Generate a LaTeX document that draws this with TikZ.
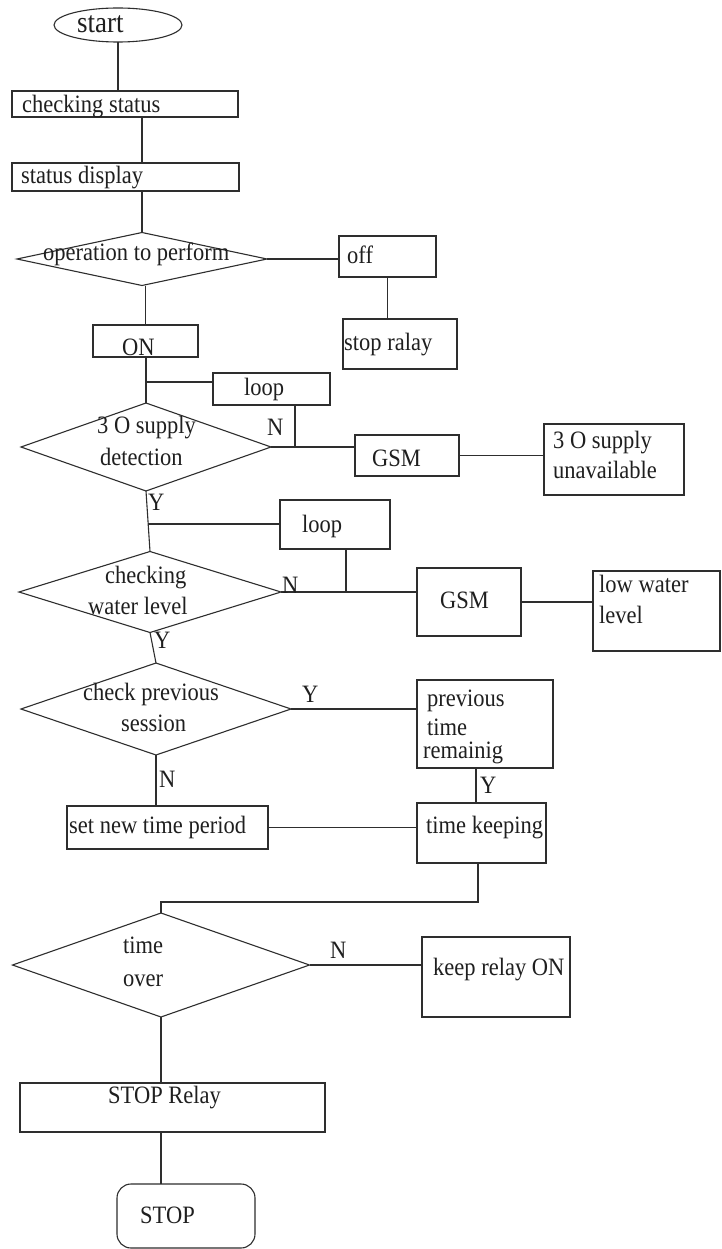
\documentclass[tikz,border=0pt]{standalone}
\usepackage{fontspec}
\setmainfont{Liberation Serif}[FakeStretch=0.9]
\usetikzlibrary{shapes.geometric}
\definecolor{ln}{gray}{0.18}
\begin{document}
\begin{tikzpicture}[x=1pt,y=-1pt,
  shp/.style={draw=ln, line width=1.1pt, inner sep=0pt, outer sep=0pt},
  box/.style={shp, rectangle},
  dia/.style={shp, diamond},
  wire/.style={draw=ln, line width=1.1pt},
  txt/.style={anchor=base west, inner sep=0pt, text=black!88, font=\fontsize{25}{27}\selectfont}]
\useasboundingbox[fill=white] (0,0) rectangle (722,1249);

% shapes
\node[shp, ellipse, minimum width=128pt, minimum height=34pt] (start) at (118,25) {};
\node[box, minimum width=226pt, minimum height=26pt] (cs) at (125,104) {};
\node[box, minimum width=227pt, minimum height=28pt] (sd) at (125.5,177) {};
\node[dia, minimum width=250pt, minimum height=53pt] (op) at (142,259) {};
\node[box, minimum width=97pt, minimum height=41pt] (off) at (387.5,256.5) {};
\node[box, minimum width=114pt, minimum height=50pt] (sr) at (400,344) {};
\node[box, minimum width=105pt, minimum height=32pt] (on) at (145.5,341) {};
\node[box, minimum width=117pt, minimum height=32pt] (loopa) at (271.5,389) {};
\node[dia, minimum width=250pt, minimum height=88pt] (dtri) at (146,447) {};
\node[box, minimum width=104pt, minimum height=41pt] (gsma) at (407,455.5) {};
\node[box, minimum width=140pt, minimum height=71pt] (unav) at (614,459.5) {};
\node[box, minimum width=110pt, minimum height=49pt] (loopb) at (335,524.5) {};
\node[dia, minimum width=262pt, minimum height=81pt] (dwl) at (150,592) {};
\node[box, minimum width=104pt, minimum height=68pt] (gsmb) at (469,602) {};
\node[box, minimum width=127pt, minimum height=80pt] (lwl) at (656.5,611) {};
\node[dia, minimum width=270pt, minimum height=92pt] (dcp) at (156,709) {};
\node[box, minimum width=136pt, minimum height=88pt] (prev) at (485,724) {};
\node[box, minimum width=129pt, minimum height=60pt] (tk) at (481.5,833) {};
\node[box, minimum width=201pt, minimum height=43pt] (snt) at (167.5,827.5) {};
\node[dia, minimum width=297pt, minimum height=104pt] (dto) at (161,965) {};
\node[box, minimum width=148pt, minimum height=80pt] (kro) at (496,977) {};
\node[box, minimum width=305pt, minimum height=49pt] (stopr) at (172.5,1107.5) {};
\node[box, rounded corners=14pt, minimum width=138pt, minimum height=64pt] (stop) at (186,1216) {};

% junction coordinates
\coordinate (j1) at (146,382);
\coordinate (j2) at (295,447);
\coordinate (j3) at (148,524);
\coordinate (j4) at (346,592);
\coordinate (j5) at (476,786);
\coordinate (j6) at (478,902);

% connectors
\draw[wire] (start.south) -- (start.south |- cs.north);
\draw[wire] (op.north |- cs.south) -- (op.north |- sd.north);
\draw[wire] (op.north |- sd.south) -- (op.north);
\draw[wire] (op.east) -- (op.east -| off.west);
\draw[wire] (off.south) -- (off.south |- sr.north);
\draw[wire] (on.north |- op.south) -- (on.north);
\draw[wire] (dtri.north |- on.south) -- (dtri.north);
\draw[wire] (j1) -- (j1 -| loopa.west);
\draw[wire] (j2 |- loopa.south) -- (j2);
\draw[wire] (dtri.east) -- (dtri.east -| gsma.west);
\draw[wire] (gsma.east) -- (gsma.east -| unav.west);
\draw[wire] (dtri.south) -- (dwl.north);
\draw[wire] (j3) -- (j3 -| loopb.west);
\draw[wire] (j4 |- loopb.south) -- (j4);
\draw[wire] (dwl.east) -- (dwl.east -| gsmb.west);
\draw[wire] (gsmb.east) -- (gsmb.east -| lwl.west);
\draw[wire] (dwl.south) -- (dcp.north);
\draw[wire] (dcp.east) -- (dcp.east -| prev.west);
\draw[wire] (j5 |- prev.south) -- (j5 |- tk.north);
\draw[wire] (dcp.south) -- (dcp.south |- snt.north);
\draw[wire] (snt.east) -- (snt.east -| tk.west);
\draw[wire] (j6 |- tk.south) -- (j6) -- (j6 -| dto.north) -- (dto.north);
\draw[wire] (dto.east) -- (dto.east -| kro.west);
\draw[wire] (dto.south) -- (dto.south |- stopr.north);
\draw[wire] (dto.south |- stopr.south) -- (dto.south |- stop.north);

% texts
\node[txt, font=\fontsize{30}{32}\selectfont] (tstart) at (77,33) {start};
\node[txt] (tcs) at (22,113) {checking status};
\node[txt] (tsd) at (21,184) {status display};
\node[txt] (top) at (43,261) {operation to perform};
\node[txt] (toff) at (347,263) {off};
\node[txt] (tsr) at (344,350) {stop ralay};
\node[txt] (ton) at (122,355) {ON};
\node[txt] (tloopa) at (244,395) {loop};
\node[txt] (ttria) at (97,433) {3 O supply};
\node[txt] (ttrib) at (100,465) {detection};
\node[txt] (tna) at (267,435) {N};
\node[txt] (tgsma) at (372,466) {GSM};
\node[txt] (tuna) at (553,448) {3 O supply};
\node[txt] (tunb) at (553,478) {unavailable};
\node[txt] (tya) at (148,510) {Y};
\node[txt] (tloopb) at (302,532) {loop};
\node[txt] (twla) at (105,583) {checking};
\node[txt] (twlb) at (88,614) {water level};
\node[txt] (tnb) at (282,593) {N};
\node[txt] (tgsmb) at (440,608) {GSM};
\node[txt] (tlwa) at (599,592) {low water};
\node[txt] (tlwb) at (599,623) {level};
\node[txt] (tyb) at (154,648) {Y};
\node[txt] (tcpa) at (83,700) {check previous};
\node[txt] (tcpb) at (121,731) {session};
\node[txt] (tyc) at (302,702) {Y};
\node[txt] (tpra) at (427,706) {previous};
\node[txt] (tprb) at (427,735) {time};
\node[txt] (tprc) at (423,758) {remainig};
\node[txt] (tyd) at (480,793) {Y};
\node[txt] (tnc) at (159,787) {N};
\node[txt] (tsnt) at (69,833) {set new time period};
\node[txt] (ttk) at (426,833) {time keeping};
\node[txt] (ttoa) at (123,953) {time};
\node[txt] (ttob) at (123,986) {over};
\node[txt] (tnd) at (330,958) {N};
\node[txt] (tkro) at (433,975) {keep relay ON};
\node[txt] (tstopr) at (108,1103) {STOP Relay};
\node[txt] (tstop) at (140,1223) {STOP};
\end{tikzpicture}
\end{document}
